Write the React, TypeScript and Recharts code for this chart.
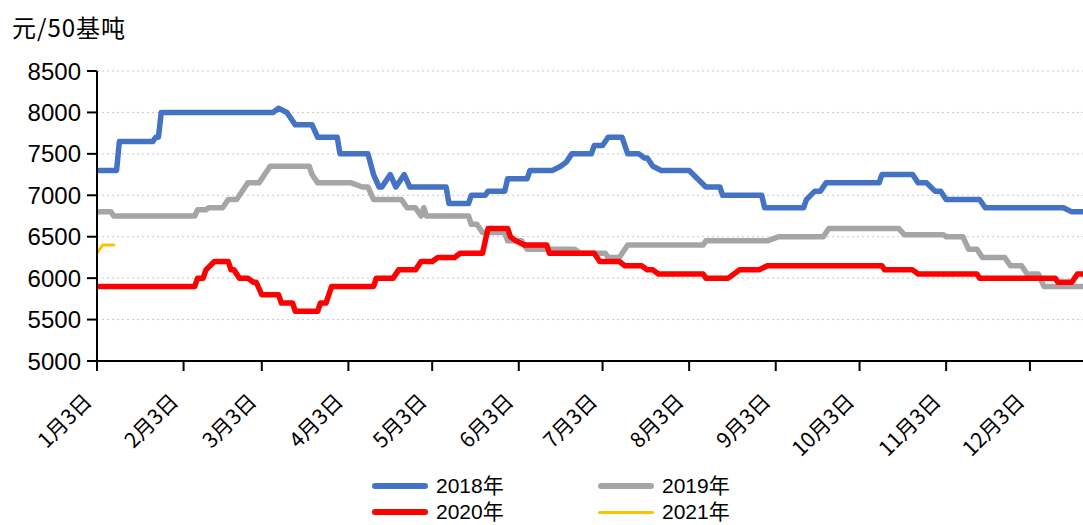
import { CartesianGrid, Line, LineChart, XAxis, YAxis } from "recharts";

// x = days since 1月3日
const monthTicks = [0, 31, 59, 90, 120, 151, 181, 212, 243, 273, 304, 334];
const monthLabels = [
  "1月3日",
  "2月3日",
  "3月3日",
  "4月3日",
  "5月3日",
  "6月3日",
  "7月3日",
  "8月3日",
  "9月3日",
  "10月3日",
  "11月3日",
  "12月3日",
];
const yTicks = [5000, 5500, 6000, 6500, 7000, 7500, 8000, 8500];

const days2018 = [
  0, 7, 8, 20, 21, 22, 23, 63, 65, 68, 71, 77, 79, 86, 87, 97, 99, 101, 102, 105, 107, 110, 112,
  125, 126, 133, 134, 139, 140, 146, 147, 154, 155, 163, 166, 168, 170, 177, 178, 181, 183, 188,
  190, 194, 196, 197, 199, 202, 212, 215, 218, 223, 224, 238, 239, 253, 254, 257, 259, 261, 280,
  281, 292, 294, 297, 300, 302, 304, 316, 318, 346, 349, 353,
];
const values2018 = [
  7300, 7300, 7650, 7650, 7700, 7700, 8000, 8000, 8050, 8000, 7850, 7850, 7700, 7700, 7500, 7500,
  7250, 7100, 7100, 7250, 7100, 7250, 7100, 7100, 6900, 6900, 7000, 7000, 7050, 7050, 7200, 7200,
  7300, 7300, 7350, 7400, 7500, 7500, 7600, 7600, 7700, 7700, 7500, 7500, 7450, 7450, 7350, 7300,
  7300, 7200, 7100, 7100, 7000, 7000, 6850, 6850, 6950, 7050, 7050, 7150, 7150, 7250, 7250, 7150,
  7150, 7050, 7050, 6950, 6950, 6850, 6850, 6800, 6800,
];

const days2019 = [
  0, 5, 6, 35, 36, 39, 40, 45, 47, 50, 51, 54, 58, 60, 62, 76, 77, 79, 91, 95, 97, 99, 109, 111,
  114, 116, 117, 118, 133, 134, 136, 138, 146, 147, 152, 154, 171, 173, 182, 183, 187, 190, 217,
  218, 240, 244, 260, 262, 287, 289, 303, 304, 310, 312, 315, 317, 325, 327, 331, 333, 337, 339,
  353,
];
const values2019 = [
  6800, 6800, 6750, 6750, 6825, 6825, 6850, 6850, 6950, 6950, 7000, 7150, 7150, 7250, 7350, 7350,
  7250, 7150, 7150, 7100, 7100, 6950, 6950, 6850, 6850, 6750, 6850, 6750, 6750, 6650, 6650, 6550,
  6550, 6450, 6450, 6350, 6350, 6300, 6300, 6250, 6250, 6400, 6400, 6450, 6450, 6500, 6500, 6600,
  6600, 6525, 6525, 6500, 6500, 6350, 6350, 6250, 6250, 6150, 6150, 6050, 6050, 5900, 5900,
];

const days2020 = [
  0, 35, 36, 38, 39, 42, 47, 48, 49, 51, 54, 56, 57, 59, 65, 66, 70, 71, 79, 80, 82, 84, 99, 100,
  106, 108, 114, 116, 120, 122, 128, 130, 138, 140, 147, 148, 150, 153, 161, 162, 178, 180, 187,
  189, 195, 197, 199, 201, 217, 218, 226, 230, 237, 240, 281, 282, 292, 294, 315, 316, 343, 344,
  349, 351, 353,
];
const values2020 = [
  5900, 5900, 6000, 6000, 6100, 6200, 6200, 6100, 6100, 6000, 6000, 5950, 5950, 5800, 5800, 5700,
  5700, 5600, 5600, 5700, 5700, 5900, 5900, 6000, 6000, 6100, 6100, 6200, 6200, 6250, 6250, 6300,
  6300, 6600, 6600, 6500, 6450, 6400, 6400, 6300, 6300, 6200, 6200, 6150, 6150, 6100, 6100, 6050,
  6050, 6000, 6000, 6100, 6100, 6150, 6150, 6100, 6100, 6050, 6050, 6000, 6000, 5950, 5950, 6050,
  6050,
];

const days2021 = [0, 2, 6];
const values2021 = [6300, 6400, 6400];

const toPoints = (days: number[], values: number[]) =>
  days.map((day, i) => ({ day, value: values[i] }));

const series = [
  { name: "2018年", color: "#4472C4", width: 5.5, data: toPoints(days2018, values2018) },
  { name: "2019年", color: "#A5A5A5", width: 5.5, data: toPoints(days2019, values2019) },
  { name: "2020年", color: "#FF0000", width: 5.5, data: toPoints(days2020, values2020) },
  { name: "2021年", color: "#FFC000", width: 3, data: toPoints(days2021, values2021) },
];

const cjkFont = '"Noto Sans CJK SC", "Noto Sans", sans-serif';
const legendFont = '"Liberation Sans", "Noto Sans CJK SC", sans-serif';

function MonthTick({ x, y, payload }: any) {
  const label = monthLabels[monthTicks.indexOf(payload.value)] ?? "";
  return (
    <g transform={`translate(${x - 4},${y + 30}) rotate(-45)`}>
      <text x={0} y={0} textAnchor="end" fill="#000" fontSize={21} fontFamily={cjkFont}>
        {label}
      </text>
    </g>
  );
}

export default function App() {
  return (
    <div
      style={{
        position: "absolute",
        left: 0,
        top: 0,
        width: 1083,
        height: 525,
        background: "#fff",
        overflow: "hidden",
      }}
    >
      <div
        style={{
          position: "absolute",
          left: 12,
          top: 10,
          fontSize: 24,
          lineHeight: "34px",
          fontFamily: cjkFont,
          color: "#000",
          letterSpacing: 1,
        }}
      >
        元/50基吨
      </div>
      <LineChart
        width={1083}
        height={525}
        margin={{ top: 71, right: 0, bottom: 0, left: 0 }}
        style={{ position: "absolute", left: 0, top: 0 }}
      >
        <CartesianGrid vertical={false} stroke="#c8c8c8" strokeDasharray="2 3" />
        <XAxis
          type="number"
          dataKey="day"
          domain={[0, 353]}
          ticks={monthTicks}
          allowDataOverflow
          height={164}
          tickSize={10}
          tick={<MonthTick />}
          axisLine={{ stroke: "#000", strokeWidth: 2 }}
          tickLine={{ stroke: "#000", strokeWidth: 2 }}
        />
        <YAxis
          type="number"
          domain={[5000, 8500]}
          ticks={yTicks}
          width={97}
          tickSize={10}
          tickMargin={6}
          tick={{ fill: "#000", fontSize: 24, fontFamily: '"Liberation Sans", Arial, sans-serif' }}
          axisLine={{ stroke: "#000", strokeWidth: 2 }}
          tickLine={{ stroke: "#000", strokeWidth: 2 }}
        />
        {series.map((s) => (
          <Line
            key={s.name}
            data={s.data}
            dataKey="value"
            name={s.name}
            type="linear"
            stroke={s.color}
            strokeWidth={s.width}
            strokeLinejoin="round"
            strokeLinecap="round"
            dot={false}
            activeDot={false}
            isAnimationActive={false}
          />
        ))}
      </LineChart>
      <div
        style={{
          position: "absolute",
          left: 372,
          top: 473,
          display: "grid",
          gridTemplateColumns: "226px 226px",
          fontFamily: legendFont,
          fontSize: 21,
          lineHeight: "26px",
          color: "#000",
        }}
      >
        {series.map((s) => (
          <div key={s.name} style={{ display: "flex", alignItems: "center", height: 26 }}>
            <span
              style={{
                display: "inline-block",
                width: 56,
                height: s.width,
                borderRadius: 3,
                background: s.color,
                marginRight: 8,
              }}
            />
            {s.name}
          </div>
        ))}
      </div>
    </div>
  );
}
